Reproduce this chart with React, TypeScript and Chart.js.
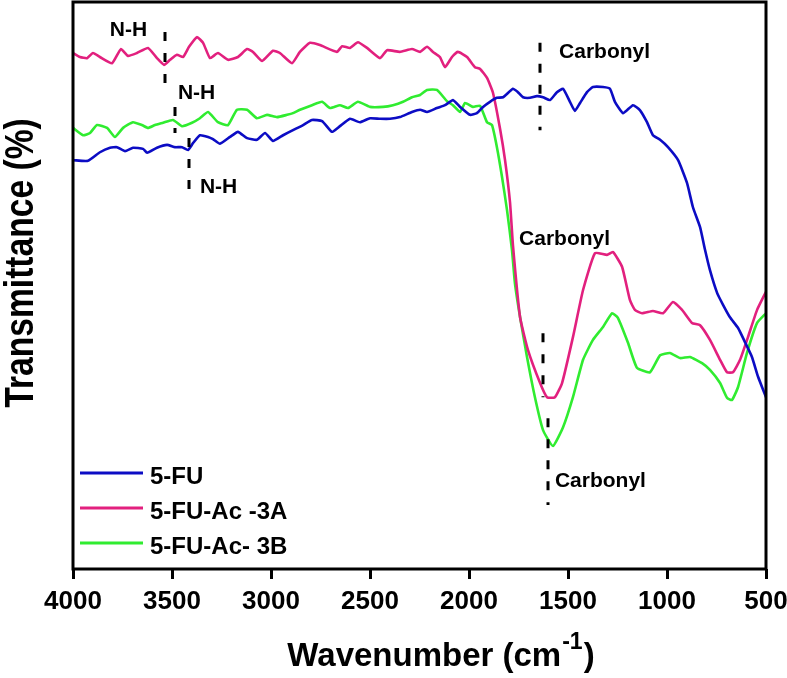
import { useEffect, useRef } from "react";
import { Chart, registerables } from "chart.js";

Chart.register(...registerables);

const FONT = "'Liberation Sans', Arial, Helvetica, sans-serif";

const seriesNames = ["5-FU", "5-FU-Ac -3A", "5-FU-Ac- 3B"];
const seriesColors = ["#0c0cc4", "#e2207e", "#30ec30"];
const xTickValues = [4000, 3500, 3000, 2500, 2000, 1500, 1000, 500];
const xTitle = "Wavenumber (cm";
const xTitleSup = "-1";
const yTitle = "Transmittance (%)";

// [wavenumber (cm-1), transmittance (a.u. %)]
const fu5: number[][] = [
  [4000, 72.1], [3924, 72.0], [3864, 73.5], [3813, 74.3], [3778, 74.4], [3737, 73.7], [3697, 74.3],
  [3646, 74.1], [3626, 73.4], [3576, 74.3], [3525, 74.8], [3485, 74.4], [3449, 74.4], [3419, 73.9],
  [3394, 75.1], [3359, 76.5], [3318, 76.2], [3293, 75.8], [3258, 75.0], [3207, 76.2], [3167, 77.1],
  [3121, 76.0], [3071, 75.7], [3030, 76.9], [2990, 75.5], [2939, 76.5], [2889, 77.4], [2838, 78.3],
  [2793, 79.2], [2742, 79.0], [2692, 77.1], [2652, 78.1], [2601, 79.4], [2551, 78.8], [2500, 79.5],
  [2449, 79.4], [2399, 79.4], [2349, 79.7], [2288, 80.6], [2247, 81.0], [2212, 80.6], [2162, 81.3],
  [2121, 81.8], [2081, 82.7], [2045, 81.5], [1995, 80.1], [1960, 80.4], [1929, 81.5], [1894, 82.4],
  [1859, 83.1], [1828, 83.2], [1778, 84.7], [1753, 84.1], [1727, 83.2], [1692, 83.1], [1657, 83.4],
  [1626, 83.2], [1591, 82.7], [1556, 84.1], [1525, 84.7], [1490, 82.4], [1465, 80.8], [1439, 82.2],
  [1404, 84.1], [1374, 85.0], [1323, 85.0], [1288, 84.7], [1263, 82.4], [1222, 80.4], [1172, 81.8],
  [1136, 80.9], [1101, 78.8], [1071, 76.5], [1035, 75.7], [995, 74.4], [944, 72.1], [899, 68.1],
  [869, 63.8], [833, 60.3], [808, 56.3], [783, 52.7], [747, 48.7], [717, 46.6], [682, 44.4],
  [641, 42.5], [606, 40.0], [571, 37.4], [540, 33.9], [500, 30.3],
];

const ac3A: number[][] = [
  [4000, 91.0], [3965, 90.3], [3929, 90.1], [3899, 91.0], [3864, 90.3], [3803, 89.2], [3758, 91.7],
  [3722, 90.5], [3677, 91.0], [3621, 91.9], [3576, 90.1], [3540, 88.9], [3510, 89.8], [3475, 90.7],
  [3444, 90.3], [3414, 92.1], [3374, 93.8], [3343, 92.8], [3308, 90.1], [3268, 91.0], [3217, 89.8],
  [3167, 90.3], [3121, 91.7], [3091, 91.2], [3045, 89.6], [2990, 91.4], [2955, 91.0], [2894, 89.2],
  [2854, 91.2], [2803, 92.8], [2753, 92.4], [2667, 91.2], [2641, 92.2], [2601, 91.9], [2561, 92.9],
  [2515, 91.9], [2449, 90.1], [2414, 91.5], [2349, 91.2], [2288, 91.7], [2247, 91.2], [2212, 92.1],
  [2182, 91.2], [2147, 90.3], [2121, 88.5], [2086, 90.3], [2056, 91.2], [2010, 90.3], [1970, 88.5],
  [1944, 88.2], [1909, 86.6], [1879, 84.0], [1843, 77.6], [1818, 72.1], [1793, 64.7], [1778, 57.1],
  [1742, 44.4], [1702, 38.6], [1641, 32.8], [1606, 30.3], [1566, 30.3], [1530, 32.8], [1475, 40.9],
  [1424, 49.2], [1364, 55.7], [1303, 55.4], [1273, 55.9], [1227, 53.3], [1187, 47.4], [1162, 45.7],
  [1126, 45.1], [1071, 45.5], [1020, 45.1], [970, 47.1], [924, 45.7], [874, 43.4], [833, 43.0],
  [783, 40.4], [732, 36.9], [697, 34.7], [667, 34.7], [631, 36.9], [591, 40.9], [545, 45.7], [500, 48.9],
];

const ac3B: number[][] = [
  [4000, 77.8], [3949, 76.5], [3914, 76.9], [3879, 78.3], [3828, 77.8], [3788, 76.2], [3747, 77.8],
  [3697, 78.8], [3652, 78.3], [3621, 77.8], [3586, 78.3], [3545, 78.7], [3495, 79.2], [3449, 78.1],
  [3399, 78.7], [3359, 79.5], [3318, 80.6], [3268, 78.8], [3217, 78.3], [3172, 81.0], [3121, 81.0],
  [3071, 79.5], [3020, 80.1], [2970, 79.7], [2919, 80.1], [2889, 80.4], [2854, 81.0], [2793, 81.8],
  [2742, 82.4], [2702, 81.3], [2652, 81.8], [2611, 81.3], [2561, 82.4], [2500, 81.5], [2434, 81.5],
  [2384, 81.8], [2333, 82.4], [2288, 83.2], [2247, 83.6], [2212, 84.5], [2162, 84.5], [2111, 82.5],
  [2081, 81.8], [2045, 80.6], [2020, 82.2], [1980, 81.5], [1944, 81.7], [1909, 78.8], [1884, 78.3],
  [1859, 74.4], [1833, 69.1], [1808, 63.3], [1783, 56.3], [1768, 50.4], [1742, 44.4], [1707, 37.4],
  [1667, 30.3], [1626, 24.5], [1576, 21.7], [1525, 25.0], [1475, 30.3], [1424, 36.9], [1374, 40.4],
  [1323, 42.7], [1278, 45.1], [1248, 44.3], [1197, 39.9], [1152, 35.5], [1086, 34.7], [1035, 37.7],
  [985, 38.1], [934, 37.2], [884, 37.4], [823, 36.3], [783, 35.1], [732, 32.8], [697, 30.2],
  [672, 29.8], [641, 32.1], [596, 38.1], [545, 43.4], [500, 45.1],
];

const seriesData = [fu5, ac3A, ac3B];

// dashed marker lines and their labels (data units)
const markers = [
  { label: "N-H", x: 3535, y0: 94.7, y1: 84.0, tx: 3626, ty: 94.0, align: "right" },
  { label: "N-H", x: 3485, y0: 81.5, y1: 76.9, tx: 3470, ty: 82.9, align: "left" },
  { label: "N-H", x: 3414, y0: 76.0, y1: 65.1, tx: 3359, ty: 66.3, align: "left" },
  { label: "Carbonyl", x: 1641, y0: 92.8, y1: 77.4, tx: 1545, ty: 90.1, align: "left" },
  { label: "Carbonyl", x: 1626, y0: 41.6, y1: 30.3, tx: 1747, ty: 57.1, align: "left" },
  { label: "Carbonyl", x: 1601, y0: 26.6, y1: 11.3, tx: 1566, ty: 14.5, align: "left" },
];

const overlayPlugin = {
  id: "overlay",
  afterDraw(chart: any) {
    const { ctx, chartArea: a, scales } = chart;
    const xs = scales.x;
    const ys = scales.y;
    ctx.save();
    // frame
    ctx.strokeStyle = "#000";
    ctx.lineWidth = 3;
    ctx.setLineDash([]);
    ctx.strokeRect(a.left, a.top, a.right - a.left, a.bottom - a.top);

    // markers
    ctx.fillStyle = "#000";
    ctx.font = `bold 21px ${FONT}`;
    ctx.textBaseline = "alphabetic";
    for (const m of markers) {
      const px = Math.round(xs.getPixelForValue(m.x));
      ctx.setLineDash([9, 12]);
      ctx.lineWidth = 3;
      ctx.beginPath();
      ctx.moveTo(px, ys.getPixelForValue(m.y0));
      ctx.lineTo(px, ys.getPixelForValue(m.y1));
      ctx.stroke();
      ctx.setLineDash([]);
      ctx.textAlign = m.align as CanvasTextAlign;
      ctx.fillText(m.label, xs.getPixelForValue(m.tx), ys.getPixelForValue(m.ty));
    }

    // legend
    ctx.font = `bold 24px ${FONT}`;
    ctx.textAlign = "left";
    const lx0 = a.left + 7;
    const lx1 = a.left + 70;
    seriesNames.forEach((name, i) => {
      const ly = 473 + i * 35;
      ctx.strokeStyle = seriesColors[i];
      ctx.lineWidth = 3;
      ctx.beginPath();
      ctx.moveTo(lx0, ly);
      ctx.lineTo(lx1, ly);
      ctx.stroke();
      ctx.fillStyle = "#000";
      ctx.fillText(name, lx1 + 7, ly + 11);
    });

    // x title with superscript
    ctx.fillStyle = "#000";
    ctx.font = `bold 33px ${FONT}`;
    const w1 = ctx.measureText(xTitle).width;
    ctx.font = `bold 23px ${FONT}`;
    const w2 = ctx.measureText(xTitleSup).width;
    ctx.font = `bold 33px ${FONT}`;
    const w3 = ctx.measureText(")").width;
    const total = w1 + w2 + w3 + 2;
    let sx = 441 - total / 2;
    const base = 666;
    ctx.fillText(xTitle, sx, base);
    sx += w1 + 1;
    ctx.font = `bold 23px ${FONT}`;
    ctx.fillText(xTitleSup, sx, base - 17);
    sx += w2 + 1;
    ctx.font = `bold 33px ${FONT}`;
    ctx.fillText(")", sx, base);

    // y title (rotated)
    ctx.translate(33, 263);
    ctx.rotate(-Math.PI / 2);
    ctx.scale(0.84, 1);
    ctx.font = `bold 40px ${FONT}`;
    ctx.textAlign = "center";
    ctx.fillText(yTitle, 0, 0);
    ctx.restore();
  },
};

export default function App() {
  const ref = useRef<HTMLCanvasElement>(null);

  useEffect(() => {
    document.body.style.margin = "0";
    const canvas = ref.current!;
    const chart = new Chart(canvas, {
      type: "line",
      data: {
        datasets: seriesData.map((s, i) => ({
          label: seriesNames[i],
          data: s.map(([x, y]) => ({ x, y })),
          borderColor: seriesColors[i],
          backgroundColor: seriesColors[i],
          borderWidth: 2.6,
          pointRadius: 0,
          tension: 0.15,
          fill: false,
        })),
      },
      options: {
        responsive: false,
        animation: false,
        devicePixelRatio: 1,
        layout: { padding: { left: 73, right: 21, top: 2, bottom: 0 } },
        plugins: { legend: { display: false }, tooltip: { enabled: false } },
        scales: {
          x: {
            type: "linear",
            reverse: true,
            min: 500,
            max: 4000,
            afterBuildTicks: (scale: any) => {
              scale.ticks = xTickValues.map((v) => ({ value: v }));
            },
            afterFit: (scale: any) => {
              scale.height = 109;
              scale.paddingLeft = 0;
              scale.paddingRight = 0;
            },
            border: { display: false },
            grid: {
              display: true,
              drawOnChartArea: false,
              drawTicks: true,
              tickLength: 10,
              tickWidth: 3,
              tickColor: "#000",
            },
            ticks: {
              color: "#000",
              padding: 7,
              maxRotation: 0,
              autoSkip: false,
              font: { family: FONT, size: 26, weight: "bold" },
              callback: (v: any) => String(v),
            },
          },
          y: {
            display: false,
            min: 0,
            max: 100,
          },
        },
      },
      plugins: [overlayPlugin],
    } as any);
    return () => chart.destroy();
  }, []);

  return (
    <div style={{ width: 787, height: 678, background: "#fff" }}>
      <canvas ref={ref} width={787} height={678} style={{ display: "block" }} />
    </div>
  );
}
